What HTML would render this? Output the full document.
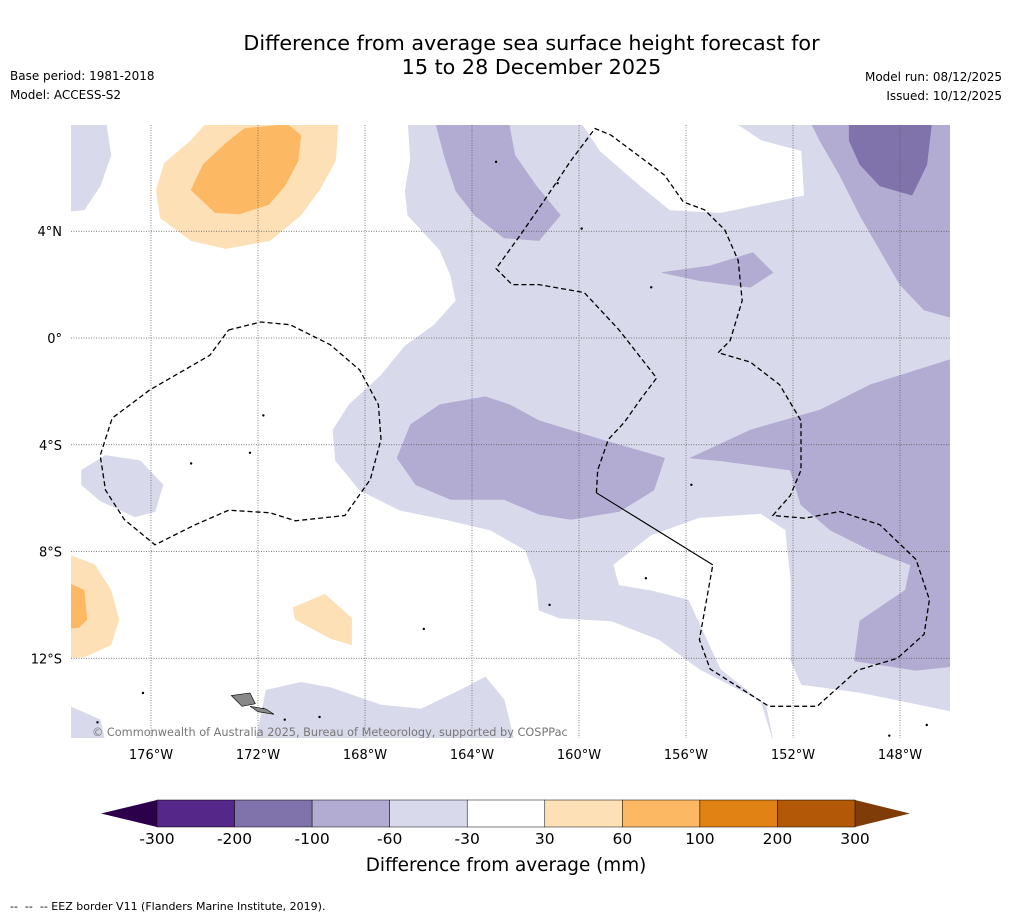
<!DOCTYPE html>
<html><head><meta charset="utf-8"><style>
body{margin:0;background:#fff;}
#root{position:relative;width:1011px;height:919px;overflow:hidden;background:#fff;font-family:"DejaVu Sans","Liberation Sans",sans-serif;}
.t{position:absolute;white-space:nowrap;color:#000;}
</style></head><body>
<div id="root">
<div class="t" style="left:0;width:1063px;top:31px;text-align:center;font-size:20.7px;line-height:24px;">Difference from average sea surface height forecast for<br>15 to 28 December 2025</div>
<div class="t" style="left:10px;top:69px;font-size:12px;">Base period: 1981-2018</div>
<div class="t" style="left:10px;top:88px;font-size:12px;">Model: ACCESS-S2</div>
<div class="t" style="right:9px;top:70px;font-size:12px;">Model run: 08/12/2025</div>
<div class="t" style="right:9px;top:89px;font-size:12px;">Issued: 10/12/2025</div>
<div class="t" style="left:10px;top:900px;font-size:11px;">--&nbsp; --&nbsp; -- EEZ border V11 (Flanders Marine Institute, 2019).</div>
<svg id="svg" width="1011" height="919" style="position:absolute;left:0;top:0"></svg>
</div>
<script>
const lonTicks=[-176,-172,-168,-164,-160,-156,-152,-148];
const lonLabels=["176°W","172°W","168°W","164°W","160°W","156°W","152°W","148°W"];
const latTicks=[4,0,-4,-8,-12];
const latLabels=["4°N","0°","4°S","8°S","12°S"];
const levels=[-300,-200,-100,-60,-30,30,60,100,200,300];
const levelColors=["#542788","#8073ac","#b2abd2","#d8daeb","#ffffff","#fee0b6","#fdb863","#e08214","#b35806"];
const lowColor="#2d004b", highColor="#7f3b08";
const lightMain=[[-166.4,8.2],[-166.3,6.7],[-166.5,5.5],[-166.4,4.6],[-165.2,3.3],[-164.8,2.35],[-164.6,1.4],[-165.4,0.5],[-166.5,-0.3],[-167.4,-1.4],[-168.6,-2.5],[-169.2,-3.45],[-169.1,-4.6],[-168.2,-5.7],[-166.7,-6.45],[-165.0,-6.8],[-163.3,-7.2],[-162.0,-7.95],[-161.6,-9.1],[-161.5,-10.2],[-160.7,-10.5],[-158.8,-10.6],[-157.0,-11.3],[-155.5,-12.4],[-153.2,-13.6],[-152.7,-15.2],[-145.5,-15.2],[-145.5,8.2]];
const whiteTop=[[-160.0,8.2],[-159.2,7.0],[-157.7,5.7],[-156.6,4.8],[-154.7,4.7],[-151.6,5.35],[-151.7,7.0],[-153.2,7.4],[-154.4,8.2]];
const whiteLow=[[-158.7,-8.5],[-157.3,-7.4],[-155.5,-6.75],[-153.2,-6.6],[-152.3,-7.2],[-152.1,-9.1],[-152.1,-12.1],[-151.7,-13.0],[-149.5,-13.3],[-146.1,-14.0],[-145.5,-14.1],[-145.5,-15.2],[-152.7,-15.2],[-153.0,-13.75],[-154.7,-12.4],[-155.9,-9.8],[-157.3,-9.45],[-158.5,-9.25]];
const lightTL=[[-179.5,8.2],[-177.7,8.2],[-177.5,6.85],[-177.9,5.7],[-178.5,4.8],[-179.5,4.7]];
const lightBlob=[[-178.6,-4.95],[-177.7,-4.4],[-176.4,-4.6],[-175.55,-5.5],[-175.85,-6.5],[-176.6,-6.7],[-177.9,-6.1],[-178.6,-5.5]];
const lightBL=[[-179.5,-13.6],[-177.9,-14.3],[-177.7,-15.2],[-179.5,-15.2]];
const lightBot=[[-172.1,-15.2],[-171.7,-13.2],[-170.4,-12.9],[-169.3,-13.1],[-167.4,-13.75],[-165.9,-13.9],[-164.45,-13.2],[-163.5,-12.7],[-162.8,-13.55],[-162.4,-15.2]];
const medWedge=[[-165.4,8.2],[-162.65,8.2],[-162.4,6.85],[-161.6,5.7],[-160.7,4.6],[-161.5,3.65],[-162.8,3.75],[-163.9,4.6],[-164.6,5.5],[-165.0,6.7]];
const medTR=[[-151.4,8.2],[-145.5,8.2],[-145.5,0.6],[-147.1,1.05],[-148.0,2.0],[-148.75,3.3],[-149.5,4.6],[-150.25,6.1],[-151.0,7.4]];
const medLens=[[-156.9,2.45],[-155.1,2.7],[-153.5,3.2],[-152.75,2.45],[-153.6,1.9],[-155.5,2.15]];
const medMid=[[-166.8,-4.5],[-166.3,-3.25],[-165.2,-2.5],[-163.5,-2.2],[-162.6,-2.5],[-161.5,-3.1],[-159.2,-3.8],[-156.8,-4.5],[-157.2,-5.7],[-158.5,-6.5],[-160.3,-6.8],[-161.5,-6.6],[-162.8,-6.05],[-164.8,-6.05],[-166.1,-5.5]];
const medRight=[[-155.85,-4.5],[-153.6,-3.45],[-151.0,-2.7],[-149.1,-1.75],[-146.1,-0.8],[-145.5,-0.7],[-145.5,-12.25],[-147.4,-12.45],[-149.7,-12.1],[-149.5,-10.6],[-147.8,-9.45],[-147.6,-8.5],[-149.1,-7.95],[-150.6,-7.2],[-151.7,-6.25],[-152.1,-4.95],[-154.7,-4.6]];
const darkTR=[[-149.9,8.2],[-146.8,8.2],[-147.0,6.5],[-147.55,5.35],[-148.75,5.7],[-149.5,6.5],[-149.9,7.4]];
const orLightTop=[[-173.8,8.2],[-169.0,8.2],[-169.1,6.65],[-169.7,5.55],[-170.4,4.6],[-171.55,3.65],[-173.2,3.35],[-174.5,3.65],[-175.65,4.5],[-175.8,5.55],[-175.5,6.55],[-174.5,7.4]];
const orMedTop=[[-172.5,7.85],[-170.9,8.0],[-170.4,7.6],[-170.5,6.65],[-171.0,5.7],[-171.6,5.0],[-172.7,4.65],[-173.6,4.7],[-174.5,5.55],[-174.05,6.5],[-173.2,7.3]];
const orLightLeft=[[-179.5,-7.95],[-178.1,-8.5],[-177.5,-9.45],[-177.2,-10.55],[-177.5,-11.5],[-178.5,-11.95],[-179.5,-12.0]];
const orMedLeft=[[-179.5,-9.0],[-178.5,-9.45],[-178.4,-10.55],[-178.7,-10.85],[-179.5,-10.9]];
const orSmall=[[-170.7,-10.1],[-169.5,-9.6],[-168.5,-10.5],[-168.5,-11.5],[-169.3,-11.25],[-170.6,-10.55]];
const bands=[[3,lightMain,"light-band-main"],[4,whiteTop,"neutral-band-north"],[4,whiteLow,"neutral-band-south"],[3,lightTL,"light-band-nw"],[3,lightBlob,"light-band-west"],[3,lightBL,"light-band-sw"],[3,lightBot,"light-band-south"],[2,medWedge,"mid-band-north"],[2,medTR,"mid-band-ne"],[2,medLens,"mid-band-lens"],[2,medMid,"mid-band-centre"],[2,medRight,"mid-band-east"],[1,darkTR,"dark-band-ne"],[5,orLightTop,"orange-light-north"],[6,orMedTop,"orange-mid-north"],[5,orLightLeft,"orange-light-west"],[6,orMedLeft,"orange-mid-west"],[5,orSmall,"orange-light-small"]];
const eezLoop=[[-173.1,0.3],[-171.9,0.6],[-170.8,0.5],[-169.3,-0.25],[-168.2,-1.2],[-167.5,-2.5],[-167.4,-3.8],[-167.8,-5.3],[-168.75,-6.65],[-170.6,-6.85],[-171.55,-6.55],[-173.1,-6.45],[-174.35,-7.0],[-175.85,-7.75],[-177.0,-6.8],[-177.7,-5.7],[-177.9,-4.4],[-177.45,-3.0],[-176.05,-1.95],[-173.8,-0.65],[-173.1,0.3]];
const eezRight=[[-159.35,-5.8],[-159.3,-4.95],[-158.9,-3.8],[-158.3,-3.15],[-157.7,-2.3],[-157.1,-1.5],[-158.5,0.3],[-159.8,1.7],[-161.5,2.0],[-162.5,2.0],[-163.1,2.6],[-162.2,3.85],[-161.3,5.15],[-160.3,6.65],[-159.4,7.85],[-158.8,7.6],[-157.8,6.85],[-156.8,6.1],[-156.1,5.1],[-155.3,4.8],[-154.55,4.05],[-154.05,2.9],[-153.9,1.4],[-154.35,-0.1],[-154.8,-0.55],[-153.6,-0.9],[-152.5,-1.75],[-151.7,-3.1],[-151.7,-4.95],[-152.1,-5.9],[-152.75,-6.65],[-151.55,-6.75],[-150.25,-6.5],[-148.75,-7.0],[-147.4,-8.3],[-146.9,-9.8],[-147.1,-11.1],[-148.1,-12.0],[-149.6,-12.45],[-151.1,-13.8],[-152.9,-13.8],[-155.1,-12.4],[-155.5,-11.3],[-155.0,-8.5]];
const eezSolid=[[-159.35,-5.8],[-155.0,-8.5]];
const islands=[[-172.6,-13.6],[-171.8,-13.9],[-171.0,-14.3],[-169.7,-14.2],[-176.3,-13.3],[-171.8,-2.9],[-172.3,-4.3],[-174.5,-4.7],[-163.1,6.6],[-160.8,5.8],[-159.9,4.1],[-157.3,1.9],[-155.8,-5.5],[-157.5,-9.0],[-161.1,-10.0],[-165.8,-10.9],[-178.0,-14.4],[-147.0,-14.5],[-148.4,-14.9]];

const X0=151,XS=26.75,Y0=338,YS=26.69;
function xs(lon){return X0+(lon+176)*XS;}
function ys(lat){return Y0-lat*YS;}
const NS="http://www.w3.org/2000/svg";
const svg=document.getElementById('svg');
function mk(tag,attrs,parent){const e=document.createElementNS(NS,tag);for(const k in attrs)e.setAttribute(k,attrs[k]);(parent||svg).appendChild(e);return e;}
function pts(arr){return arr.map(p=>xs(p[0]).toFixed(1)+","+ys(p[1]).toFixed(1)).join(" ");}
const MX=71,MY=125,MW=879,MH=613;
const defs=mk('defs',{});
const cp=mk('clipPath',{id:'mapclip'},defs);
mk('rect',{x:MX,y:MY,width:MW,height:MH},cp);
const g=mk('g',{'clip-path':'url(#mapclip)'});


bands.forEach(b=>{
  const p=mk('polygon',{points:pts(b[1]),fill:levelColors[b[0]],stroke:levelColors[b[0]],'stroke-width':0.6},g);
  
  
});
lonTicks.forEach((lon,i)=>{
  const l=mk('line',{x1:xs(lon),x2:xs(lon),y1:MY,y2:MY+MH,stroke:'#555','stroke-width':0.7,'stroke-dasharray':'1,1.5'},g);
  
  
  const t=mk('text',{x:xs(lon),y:759,'text-anchor':'middle','font-size':13,'font-family':'DejaVu Sans, Liberation Sans, sans-serif'});
  t.textContent=lonLabels[i];
  
  
});
latTicks.forEach((lat,i)=>{
  const l=mk('line',{x1:MX,x2:MX+MW,y1:ys(lat),y2:ys(lat),stroke:'#555','stroke-width':0.7,'stroke-dasharray':'1,1.5'},g);
  
  
  const t=mk('text',{x:62,y:ys(lat)+5,'text-anchor':'end','font-size':13,'font-family':'DejaVu Sans, Liberation Sans, sans-serif'});
  t.textContent=latLabels[i];
  
  
});
islands.forEach(p=>{
  const c=mk('circle',{cx:xs(p[0]),cy:ys(p[1]),r:1.2,fill:'#000'},g);
  
  
});
const sam=mk('polygon',{points:pts([[-173.0,-13.4],[-172.3,-13.3],[-172.1,-13.7],[-172.6,-13.8]]),fill:'#888',stroke:'#000','stroke-width':0.6},g);


const sam2=mk('polygon',{points:pts([[-172.3,-13.8],[-171.7,-13.9],[-171.4,-14.1],[-172.0,-14.0]]),fill:'#888',stroke:'#000','stroke-width':0.6},g);


const e1=mk('polyline',{points:pts(eezLoop),fill:'none',stroke:'#000','stroke-width':1.3,'stroke-dasharray':'5,3'},g);


const e2=mk('polyline',{points:pts(eezRight),fill:'none',stroke:'#000','stroke-width':1.3,'stroke-dasharray':'5,3'},g);


const e3=mk('polyline',{points:pts(eezSolid),fill:'none',stroke:'#000','stroke-width':1.1},g);


const cr=mk('text',{x:92,y:736,'font-size':11.3,fill:'#777','font-family':'DejaVu Sans, Liberation Sans, sans-serif'},g);
cr.textContent='© Commonwealth of Australia 2025, Bureau of Meteorology, supported by COSPPac';



const CB0=157,CB1=855,CBY=800,CBH=27;
const cw=(CB1-CB0)/(levels.length-1);
const cb=mk('g',{});


const lt=mk('polygon',{points:`${CB0},${CBY} ${CB0-56},${CBY+CBH/2} ${CB0},${CBY+CBH}`,fill:lowColor},cb);


const rt=mk('polygon',{points:`${CB1},${CBY} ${CB1+55},${CBY+CBH/2} ${CB1},${CBY+CBH}`,fill:highColor},cb);


levelColors.forEach((c,i)=>{
  const r=mk('rect',{x:CB0+i*cw,y:CBY,width:cw,height:CBH,fill:c,stroke:'#000','stroke-width':0.5},cb);
  
  
});
levels.forEach((v,i)=>{
  const t=mk('text',{x:CB0+i*cw,y:844,'text-anchor':'middle','font-size':15.5,'font-family':'DejaVu Sans, Liberation Sans, sans-serif'},cb);
  t.textContent=String(v);
  
  
});
const ct=mk('text',{x:506,y:871,'text-anchor':'middle','font-size':18.4,'font-family':'DejaVu Sans, Liberation Sans, sans-serif'},cb);
ct.textContent='Difference from average (mm)';


</script>
</body></html>
